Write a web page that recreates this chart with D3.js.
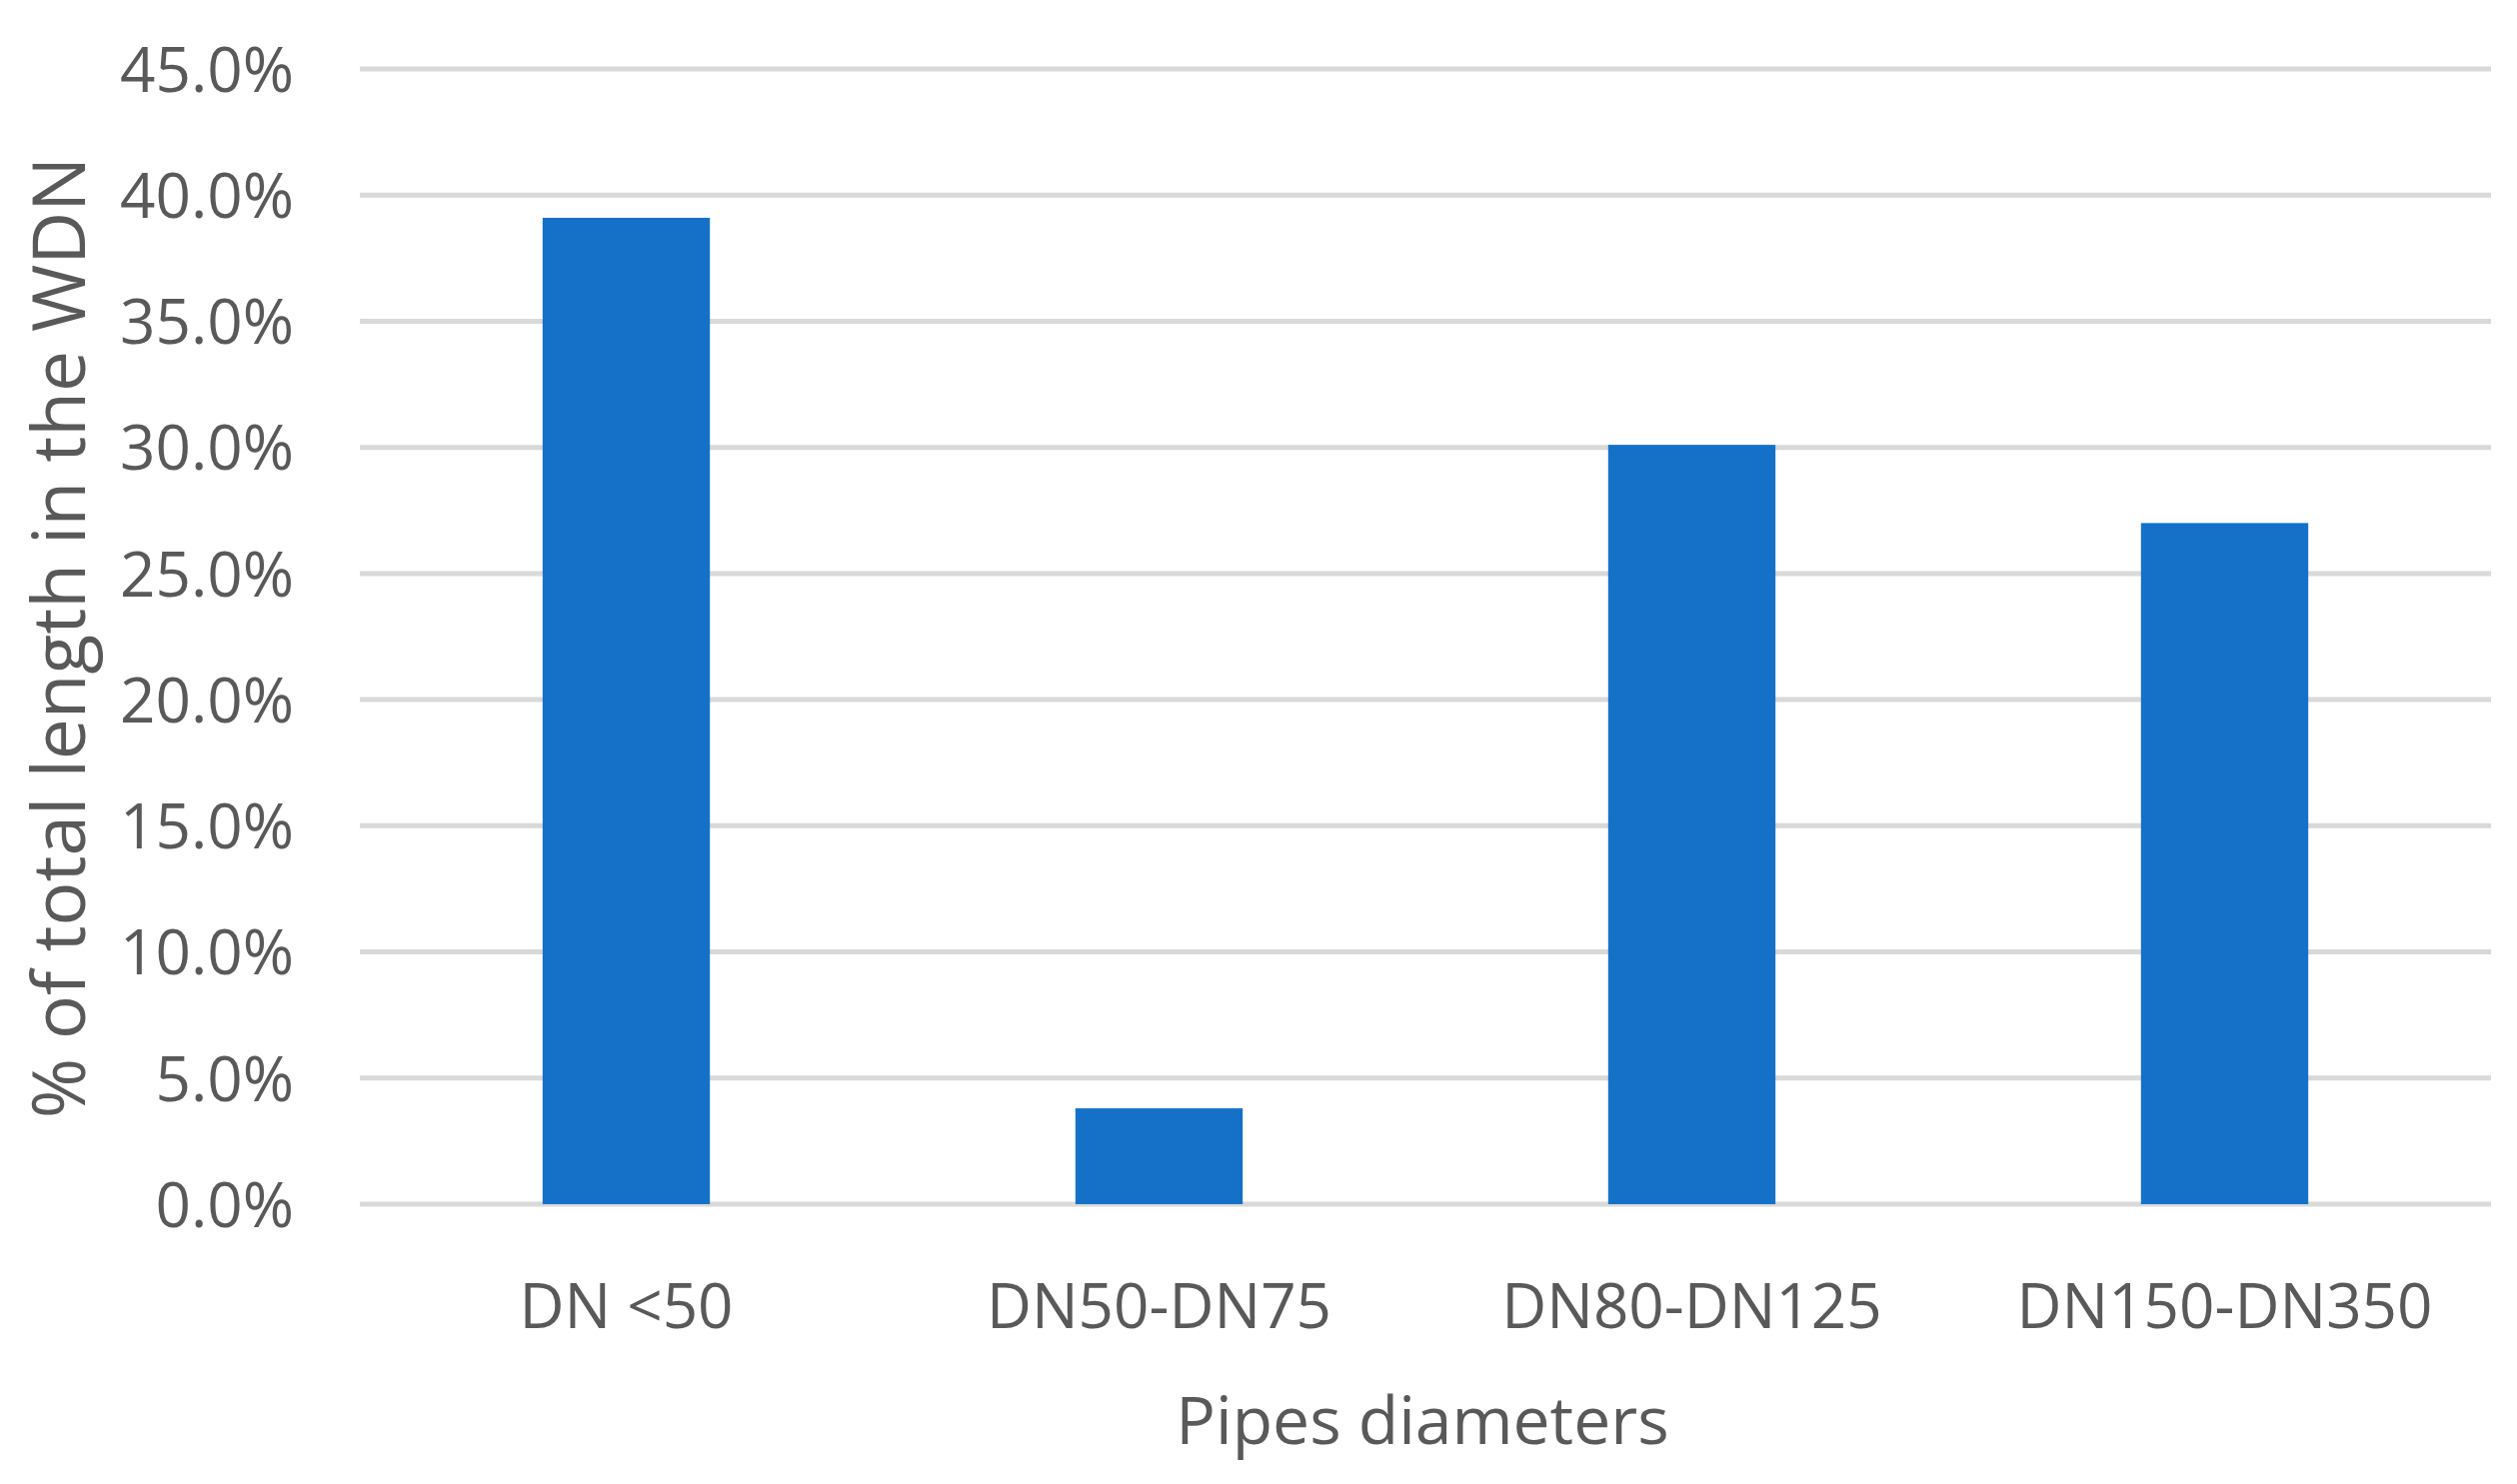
<!DOCTYPE html>
<html>
<head>
<meta charset="utf-8">
<script src="https://cdn.jsdelivr.net/npm/d3@7"></script>
<style>
  html, body { margin: 0; padding: 0; background: #ffffff; }
  svg { display: block; }
  text { font-family: "Open Sans", "Noto Sans", sans-serif; fill: #595959; }
</style>
</head>
<body>
<svg id="chart" width="2518" height="1485"></svg>
<script>
const categories = ["DN <50", "DN50-DN75", "DN80-DN125", "DN150-DN350"];
const values = [39.1, 3.8, 30.1, 27.0];
const tickValues = [0, 5, 10, 15, 20, 25, 30, 35, 40, 45];
const yTitle = "% of total length in the WDN";
const xTitle = "Pipes diameters";

const svg = d3.select("#chart");
const W = 2518, H = 1485;
const m = { left: 360, right: 26, top: 69, bottom: 280 };

const x = d3.scaleBand().domain(categories).range([m.left, W - m.right]).paddingInner(0.686).paddingOuter(0.343);
const y = d3.scaleLinear().domain([0, 45]).range([H - m.bottom, m.top]);

// gridlines
svg.append("g").selectAll("line").data(tickValues).join("line")
  .attr("x1", m.left).attr("x2", W - m.right)
  .attr("y1", d => y(d)).attr("y2", d => y(d))
  .attr("stroke", "#d9d9d9").attr("stroke-width", 5);

// bars
svg.append("g").selectAll("rect").data(values).join("rect")
  .attr("x", (d, i) => x(categories[i]))
  .attr("width", x.bandwidth())
  .attr("y", d => y(d))
  .attr("height", d => y(0) - y(d))
  .attr("fill", "#1571c8");

// y axis
const yAxis = d3.axisLeft(y).tickValues(tickValues).tickFormat(d => d.toFixed(1) + "%").tickSize(0).tickPadding(0);
const gy = svg.append("g").attr("transform", `translate(294,0)`).call(yAxis);
gy.select(".domain").remove();
gy.selectAll("text").style("font-size", "62px").attr("fill", "#595959").attr("dy", "0.36em")
  .attr("font-family", "'Open Sans', sans-serif");

// x axis
const xAxis = d3.axisBottom(x).tickSize(0).tickPadding(0);
const gx = svg.append("g").attr("transform", `translate(0,${H - m.bottom})`).call(xAxis);
gx.select(".domain").remove();
gx.selectAll("text").style("font-size", "62px").attr("fill", "#595959").attr("dy", null).attr("y", 124)
  .attr("font-family", "'Open Sans', sans-serif");

// titles
svg.append("text").attr("x", 1423).attr("y", 1445).attr("text-anchor", "middle")
  .style("font-size", "66px").text(xTitle);
svg.append("text").attr("transform", "translate(85,638) rotate(-90)").attr("text-anchor", "middle")
  .style("font-size", "73px").text(yTitle);
</script>
</body>
</html>
